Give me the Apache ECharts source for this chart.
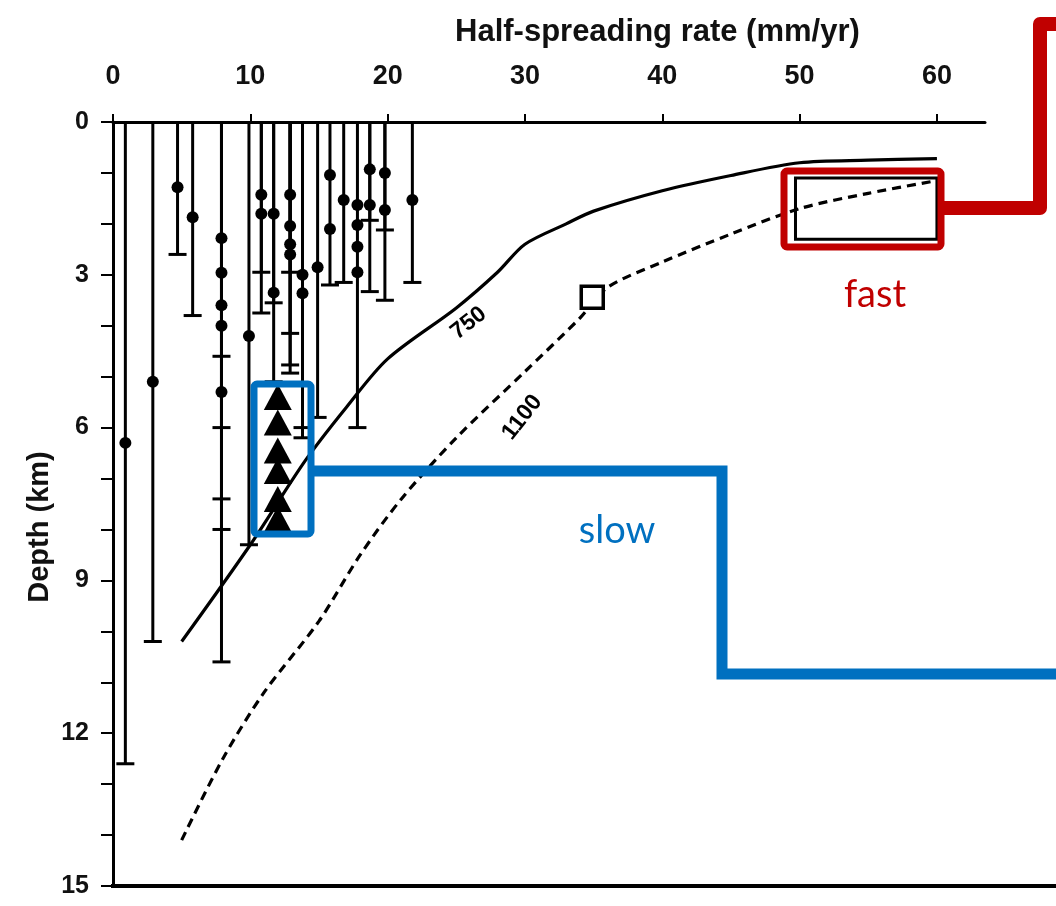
<!DOCTYPE html>
<html>
<head>
<meta charset="utf-8">
<script src="https://cdn.jsdelivr.net/npm/echarts@6/dist/echarts.min.js"></script>
<style>
  html, body { margin: 0; padding: 0; background: #fff; }
  #chart { width: 1056px; height: 906px; }
</style>
</head>
<body>
<div id="chart"></div>
<script>
  // x ticks (mm/yr) and depth ticks (km)
  var rateTicks = [0, 10, 20, 30, 40, 50, 60];
  var depthTicks = [0, 3, 6, 9, 12, 15];

  // vertical bars: [rate, deepest depth]
  var bars = [
    [0.9, 12.6], [2.9, 10.2], [4.7, 2.6], [5.8, 3.8],
    [7.9, 4.6], [7.9, 6.0], [7.9, 7.4], [7.9, 8.0], [7.9, 10.6],
    [9.9, 8.3],
    [10.8, 2.95], [10.8, 3.75],
    [11.7, 3.55], [11.7, 5.1],
    [12.9, 2.95], [12.9, 4.15], [12.9, 4.77], [12.9, 4.93],
    [13.8, 6.0], [13.8, 6.2],
    [14.9, 5.8], [15.8, 3.2], [16.8, 3.15], [17.8, 6.0],
    [18.7, 1.93], [18.7, 3.33],
    [19.8, 2.12], [19.8, 3.5],
    [21.8, 3.15]
  ];

  // dots on the bars: [rate, depth]
  var dots = [
    [0.9, 6.3], [2.9, 5.1], [4.7, 1.28], [5.8, 1.87],
    [7.9, 2.28], [7.9, 2.96], [7.9, 3.6], [7.9, 4.0], [7.9, 5.3],
    [9.9, 4.2],
    [10.8, 1.43], [10.8, 1.8],
    [11.7, 1.8], [11.7, 3.35],
    [12.9, 1.43], [12.9, 2.04], [12.9, 2.4], [12.9, 2.6],
    [13.8, 3.0], [13.8, 3.36],
    [14.9, 2.85],
    [15.8, 1.04], [15.8, 2.1],
    [16.8, 1.53],
    [17.8, 1.63], [17.8, 2.02], [17.8, 2.45], [17.8, 2.95],
    [18.7, 0.93], [18.7, 1.63],
    [19.8, 1.0], [19.8, 1.73],
    [21.8, 1.53]
  ];

  // triangles (slow ridge)
  var triangles = [[12, 5.4], [12, 5.9], [12, 6.45], [12, 6.85], [12, 7.4], [12, 7.8]];

  // isotherms
  var iso750 = [[5, 10.2], [10, 8.3], [14, 6.65], [17, 5.6], [20, 4.65], [25, 3.65], [28, 2.95],
    [30, 2.4], [33, 2.0], [35, 1.75], [40, 1.35], [45, 1.05], [50, 0.8], [55, 0.75], [60, 0.72]];
  var iso1100 = [[5, 14.1], [8, 12.5], [11, 11.2], [15, 9.8], [18, 8.5], [21, 7.4], [25, 6.2],
    [30, 4.9], [34, 3.85], [36, 3.25], [40, 2.75], [45, 2.2], [50, 1.7], [55, 1.4], [60, 1.15]];

  // open square and fast-ridge box
  var openSquare = [[34.9, 3.44]];
  var fastBox = [[49.7, 60, 1.1, 2.3]];

  var chart = echarts.init(document.getElementById('chart'));
  var font = 'Liberation Sans';

  var option = {
    animation: false,
    backgroundColor: '#fff',
    title: {
      text: 'Half-spreading rate (mm/yr)',
      left: 450,
      top: 12,
      textStyle: { fontFamily: font, fontSize: 31, fontWeight: 'bold', color: '#111' }
    },
    grid: { left: 113, right: 71, top: 122, bottom: 20 },
    xAxis: {
      type: 'value',
      position: 'top',
      min: 0,
      max: 63.5,
      interval: 10,
      axisLine: { lineStyle: { color: '#000', width: 3 } },
      axisTick: { show: true, inside: false, length: 8, customValues: rateTicks, lineStyle: { color: '#000', width: 2 } },
      axisLabel: { customValues: rateTicks, margin: 32, fontFamily: font, fontSize: 27, fontWeight: 'bold', color: '#111' },
      splitLine: { show: false }
    },
    yAxis: {
      type: 'value',
      inverse: true,
      min: 0,
      max: 15,
      interval: 3,
      axisLine: { lineStyle: { color: '#000', width: 3 } },
      axisTick: { length: 12, lineStyle: { color: '#000', width: 2 } },
      minorTick: { show: true, splitNumber: 3, length: 12, lineStyle: { color: '#000', width: 2 } },
      axisLabel: { margin: 24, fontFamily: font, fontSize: 25, fontWeight: 'bold', color: '#111' },
      splitLine: { show: false }
    },
    series: [
      {
        type: 'custom',
        data: bars,
        renderItem: function (params, api) {
          var top = api.coord([api.value(0), 0]);
          var bot = api.coord([api.value(0), api.value(1)]);
          return {
            type: 'group',
            children: [
              { type: 'line', shape: { x1: top[0], y1: top[1], x2: bot[0], y2: bot[1] }, style: { stroke: '#000', lineWidth: 3 } },
              { type: 'line', shape: { x1: bot[0] - 9, y1: bot[1], x2: bot[0] + 9, y2: bot[1] }, style: { stroke: '#000', lineWidth: 3 } }
            ]
          };
        },
        z: 2
      },
      {
        type: 'scatter',
        data: dots,
        symbol: 'circle',
        symbolSize: 12,
        itemStyle: { color: '#000', opacity: 1 },
        z: 3
      },
      {
        type: 'scatter',
        data: triangles,
        symbol: 'triangle',
        symbolSize: [28, 26],
        itemStyle: { color: '#000', opacity: 1 },
        z: 3
      },
      {
        type: 'line',
        data: iso750,
        smooth: 0.3,
        symbol: 'none',
        lineStyle: { color: '#000', width: 3.2 },
        z: 2
      },
      {
        type: 'line',
        data: iso1100,
        smooth: 0.3,
        symbol: 'none',
        lineStyle: { color: '#000', width: 3.2, type: [9, 6] },
        z: 2
      },
      {
        type: 'scatter',
        data: [{ value: [25.9, 3.95], name: '750' }],
        symbolSize: 1,
        itemStyle: { color: 'transparent', opacity: 1 },
        label: { show: true, position: 'inside', formatter: '{b}', rotate: 38, fontFamily: font, fontSize: 23, fontWeight: 'bold', color: '#000' }
      },
      {
        type: 'scatter',
        data: [{ value: [29.8, 5.8], name: '1100' }],
        symbolSize: 1,
        itemStyle: { color: 'transparent', opacity: 1 },
        label: { show: true, position: 'inside', formatter: '{b}', rotate: 52, fontFamily: font, fontSize: 23, fontWeight: 'bold', color: '#000' }
      },
      {
        type: 'scatter',
        data: openSquare,
        symbol: 'rect',
        symbolSize: 22,
        itemStyle: { color: '#fff', borderColor: '#000', borderWidth: 3.5, opacity: 1 },
        z: 4
      },
      {
        type: 'custom',
        data: fastBox,
        renderItem: function (params, api) {
          var a = api.coord([api.value(0), api.value(2)]);
          var b = api.coord([api.value(1), api.value(3)]);
          return {
            type: 'rect',
            shape: { x: a[0], y: a[1], width: b[0] - a[0], height: b[1] - a[1] },
            style: { fill: 'none', stroke: '#000', lineWidth: 3 }
          };
        },
        z: 3
      }
    ],
    graphic: [
      // y axis name
      { type: 'text', x: 40, y: 527, rotation: Math.PI / 2, style: { text: 'Depth (km)', fill: '#111', font: 'bold 29px "Liberation Sans"', textAlign: 'center', textVerticalAlign: 'middle' } },
      // bottom frame line
      { type: 'line', shape: { x1: 111, y1: 886, x2: 1056, y2: 886 }, style: { stroke: '#000', lineWidth: 4 } },
      // fast callout
      { type: 'rect', shape: { x: 784, y: 171, width: 157, height: 76, r: 3 }, style: { fill: 'none', stroke: '#c00000', lineWidth: 7 }, z: 10 },
      { type: 'polyline', shape: { points: [[941, 208], [1040, 208], [1040, 24], [1056, 24]] }, style: { fill: 'none', stroke: '#c00000', lineWidth: 14, lineJoin: 'round' }, z: 10 },
      { type: 'text', style: { x: 875, y: 295, text: 'fast', fill: '#c00000', font: '38px Lato', textAlign: 'center', textVerticalAlign: 'middle' }, z: 10 },
      // slow callout
      { type: 'rect', shape: { x: 254, y: 384, width: 57, height: 150, r: 3 }, style: { fill: 'none', stroke: '#0070c0', lineWidth: 7 }, z: 10 },
      { type: 'polyline', shape: { points: [[311, 471], [722, 471], [722, 674], [1056, 674]] }, style: { fill: 'none', stroke: '#0070c0', lineWidth: 11 }, z: 10 },
      { type: 'text', style: { x: 617, y: 531, text: 'slow', fill: '#0070c0', font: '38px Lato', textAlign: 'center', textVerticalAlign: 'middle' }, z: 10 }
    ]
  };

  chart.setOption(option);
</script>
</body>
</html>
